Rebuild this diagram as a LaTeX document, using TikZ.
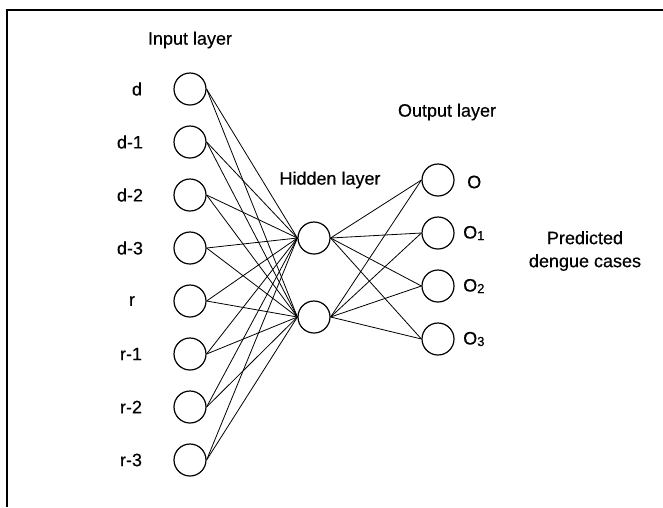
\documentclass[tikz,border=0pt]{standalone}
\usepackage{fontspec}
\setmainfont{Liberation Sans}
\newfontfamily\lblfont{Liberation Sans}[FakeBold=0.4]
\newcommand{\osub}[1]{O\raisebox{-1.5pt}{\fontsize{13}{13}\selectfont #1}}
\begin{document}
\begin{tikzpicture}[x=1pt,y=-1pt,
  neuron/.style={circle,draw,line width=1.2pt,minimum size=32pt,inner sep=0pt},
  lbl/.style={font=\lblfont\fontsize{18}{23}\selectfont,inner sep=0pt},
  link/.style={line width=0.8pt},
  frame/.style={line width=1.4pt}]
\useasboundingbox (0,0) rectangle (663,507);

% frame: top and left edges only
\coordinate (ftl) at (7,10);
\coordinate (ftr) at (663,10);
\coordinate (fbl) at (7,507);
\draw[frame] (ftr) -- (ftl) -- (fbl);

% layer titles
\node[lbl] (tin)  at (190,40)  {Input layer};
\node[lbl] (thid) at (330,180) {Hidden layer};
\node[lbl] (tout) at (447,112) {Output layer};
\node[lbl,align=center] (tpred) at (585,251) {Predicted\\dengue cases};

% input layer
\foreach \i/\t/\lx in {1/d/137,2/d-1/130,3/d-2/130,4/d-3/130,5/r/132,6/r-1/131,7/r-2/131,8/r-3/131}{
  \node[neuron] (in\i) at (190,{89+53*(\i-1)}) {};
  \node[lbl] (inl\i) at (\lx,{89+53*(\i-1)}) {\t};
}

% hidden layer
\node[neuron] (h1) at (314,238) {};
\node[neuron] (h2) at (314,317) {};

% output layer
\node[neuron] (o1) at (438,180) {};
\node[neuron] (o2) at (438,233) {};
\node[neuron] (o3) at (438,286) {};
\node[neuron] (o4) at (438,339) {};
\node[lbl,anchor=west] (ol1) at (467,182) {O};
\node[lbl,anchor=west] (ol2) at (463,233) {\osub{1}};
\node[lbl,anchor=west] (ol3) at (463,286) {\osub{2}};
\node[lbl,anchor=west] (ol4) at (463,339) {\osub{3}};

% connections
\foreach \i in {1,...,8}{
  \foreach \h in {h1,h2}{
    \draw[link] (in\i.east) -- (\h.west);
  }
}
\foreach \h in {h1,h2}{
  \foreach \o in {o1,o2,o3,o4}{
    \draw[link] (\h.east) -- (\o.west);
  }
}
\end{tikzpicture}
\end{document}
